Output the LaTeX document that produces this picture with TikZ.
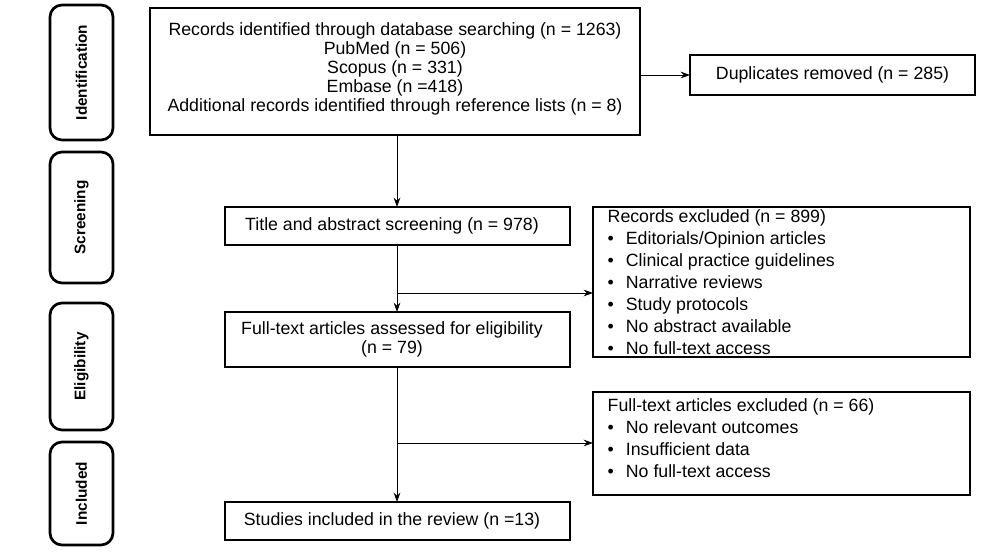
\documentclass[tikz,border=0pt]{standalone}
\usepackage{fontspec}
\setmainfont{Liberation Sans}
\usetikzlibrary{arrows.meta}
\begin{document}
\begin{tikzpicture}[x=0.75pt,y=-0.75pt,
  box/.style={draw,line width=0.8pt,inner sep=0pt},
  side/.style={draw,line width=2pt,rounded corners=9pt},
  lab/.style={font=\bfseries\fontsize{11.5}{13}\selectfont,rotate=90},
  txt/.style={font=\fontsize{13.3}{14.3}\selectfont,align=center},
  ltxt/.style={font=\fontsize{13.3}{16.5}\selectfont,align=left,anchor=north west},
  arr/.style={-{Stealth[length=7pt,width=5pt]},line width=0.7pt}]
\useasboundingbox (0,0) rectangle (986,555);
% side labels
\draw[side] (50,5) rectangle (113,140);
\node[lab] (l1) at (81.5,72.5) {Identification};
\draw[side] (50,152) rectangle (113,283);
\node[lab] (l2) at (81.5,217.5) {Screening};
\draw[side] (50,303) rectangle (113,430);
\node[lab] (l3) at (81.5,366.5) {Eligibility};
\draw[side] (50,442) rectangle (113,545);
\node[lab] (l4) at (81.5,493.5) {Included};
% boxes
\draw[box] (150,8) rectangle (640,135);
\node[txt] (b1) at (395,69) {Records identified through database searching (n = 1263)\\PubMed (n = 506)\\Scopus (n = 331)\\Embase (n =418)\\Additional records identified through reference lists (n = 8)};
\draw[box] (690,55) rectangle (975,95);
\node[txt] (dup) at (832.5,75) {Duplicates removed (n = 285)};
\draw[box] (225,207) rectangle (570,245);
\node[txt] (ts) at (392,226) {Title and abstract screening (n = 978)};
\draw[box] (593,207) rectangle (970,357);
\node[ltxt] (re) at (603,205) {Records excluded (n = 899)\\\textbullet\hspace{9pt}Editorials/Opinion articles\\\textbullet\hspace{9pt}Clinical practice guidelines\\\textbullet\hspace{9pt}Narrative reviews\\\textbullet\hspace{9pt}Study protocols\\\textbullet\hspace{9pt}No abstract available\\\textbullet\hspace{9pt}No full-text access};
\draw[box] (225,312) rectangle (570,367);
\node[txt] (fa) at (392,339.5) {Full-text articles assessed for eligibility\\(n = 79)};
\draw[box] (593,392) rectangle (970,495);
\node[ltxt] (fe) at (603,394) {Full-text articles excluded (n = 66)\\\textbullet\hspace{9pt}No relevant outcomes\\\textbullet\hspace{9pt}Insufficient data\\\textbullet\hspace{9pt}No full-text access};
\draw[box] (225,502) rectangle (570,540);
\node[txt] (si) at (392,521) {Studies included in the review (n =13)};
% connectors
\coordinate (b1b) at (397,135); \coordinate (tst) at (397,207);
\coordinate (tsb) at (397,245); \coordinate (fat) at (397,312);
\coordinate (fab) at (397,367); \coordinate (sit) at (397,502);
\coordinate (j1) at (397,293); \coordinate (rel) at (593,293);
\coordinate (j2) at (397,443); \coordinate (fel) at (593,443);
\coordinate (b1r) at (640,75); \coordinate (dupl) at (690,75);
\draw[arr] (b1b) -- (tst);
\draw[arr] (tsb) -- (fat);
\draw[arr] (fab) -- (sit);
\draw[arr] (j1) -- (rel);
\draw[arr] (j2) -- (fel);
\draw[arr] (b1r) -- (dupl);
\end{tikzpicture}
\end{document}
